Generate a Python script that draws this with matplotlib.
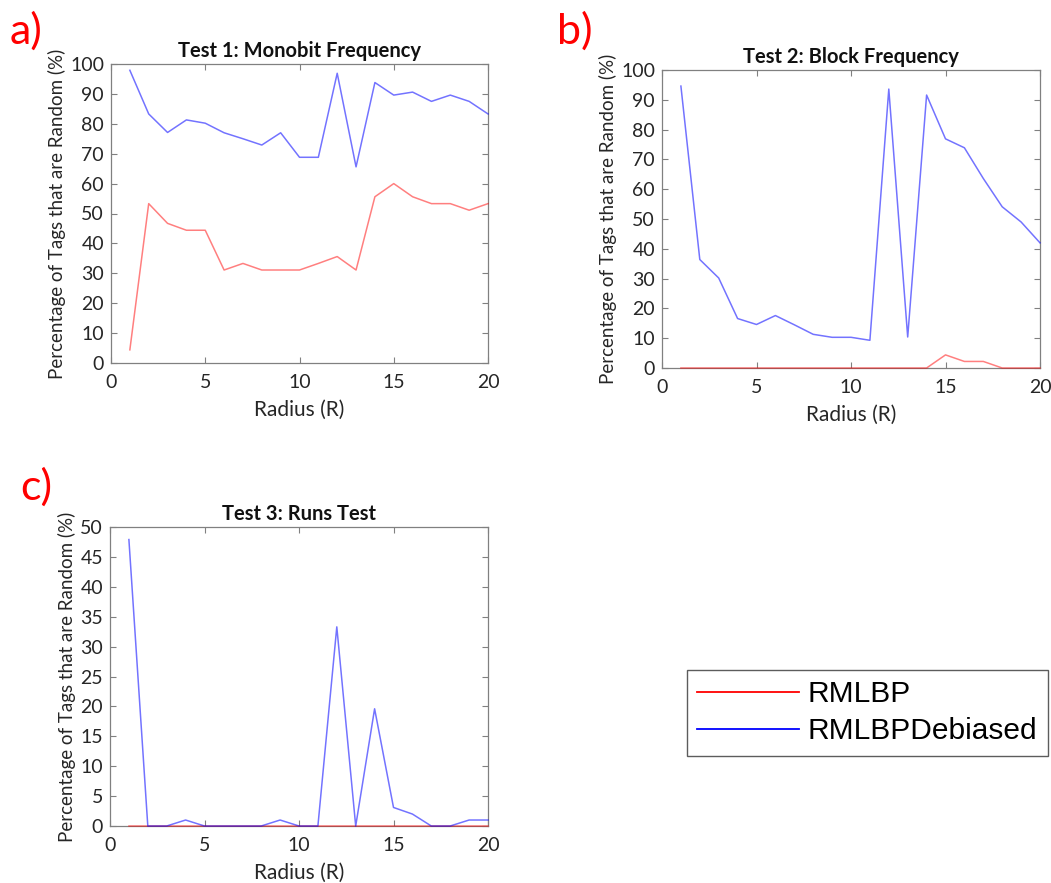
import matplotlib
matplotlib.use("Agg")
import matplotlib.pyplot as plt
from matplotlib.lines import Line2D

radius = list(range(1, 21))

# Test 1: Monobit Frequency
t1_rmlbp = [4.4, 53.3, 46.7, 44.4, 44.4, 31.1, 33.3, 31.1, 31.1, 31.1,
            33.3, 35.6, 31.1, 55.6, 60.0, 55.6, 53.3, 53.3, 51.1, 53.3]
t1_debiased = [97.9, 83.3, 77.1, 81.3, 80.2, 77.0, 75.0, 72.9, 77.0, 68.8,
               68.8, 96.9, 65.6, 93.8, 89.6, 90.6, 87.5, 89.6, 87.5, 83.3]

# Test 2: Block Frequency
t2_rmlbp = [0, 0, 0, 0, 0, 0, 0, 0, 0, 0,
            0, 0, 0, 0, 4.4, 2.2, 2.2, 0, 0, 0]
t2_debiased = [94.6, 36.4, 30.2, 16.6, 14.6, 17.6, 14.5, 11.3, 10.3, 10.3,
               9.3, 93.6, 10.4, 91.6, 76.9, 73.9, 63.6, 54.1, 49.0, 42.0]

# Test 3: Runs Test
t3_rmlbp = [0] * 20
t3_debiased = [47.9, 0, 0, 1.0, 0, 0, 0, 0, 1.0, 0,
               0, 33.3, 0, 19.6, 3.1, 2.0, 0, 0, 1.0, 1.0]

titles = ["Test 1: Monobit Frequency", "Test 2: Block Frequency", "Test 3: Runs Test"]
panel_labels = ["a)", "b)", "c)"]
legend_labels = ["RMLBP", "RMLBPDebiased"]
xlabel = "Radius (R)"
ylabel = "Percentage of Tags that are Random (%)"

FONT = ["Lato", "DejaVu Sans"]
RED = "#ff0000"
BLUE = "#0000ff"

W, H = 1051, 883
fig = plt.figure(figsize=(W / 100, H / 100), dpi=100)


def px_axes(left, top, right, bottom):
    return fig.add_axes([left / W, 1 - bottom / H, (right - left) / W, (bottom - top) / H])


def style(ax, ymax, ystep, title):
    ax.set_xlim(0, 20)
    ax.set_ylim(0, ymax)
    ax.set_xticks(range(0, 21, 5))
    ax.set_yticks(range(0, ymax + 1, ystep))
    ax.tick_params(direction="in", top=True, right=True, length=4, width=0.8,
                   color="#808080", labelsize=14, labelcolor="#262626")
    ax.tick_params(axis="x", pad=8)
    ax.tick_params(axis="y", pad=5)
    for lab in ax.get_xticklabels() + ax.get_yticklabels():
        lab.set_fontfamily(FONT)
    for sp in ax.spines.values():
        sp.set_color("#808080")
        sp.set_linewidth(0.9)
    ax.set_title(title, fontsize=14.5, fontweight="bold", family=FONT, pad=5, color="#111111")
    ax.set_xlabel(xlabel, fontsize=15, family=FONT, color="#262626", labelpad=6)
    ax.set_ylabel(ylabel, fontsize=13.5, family=FONT, color="#262626", labelpad=3)


axes_specs = [
    ((111, 64, 488, 363), t1_rmlbp, t1_debiased, 100, 10),
    ((662, 70, 1040, 368), t2_rmlbp, t2_debiased, 100, 10),
    ((110, 527, 488, 826), t3_rmlbp, t3_debiased, 50, 5),
]

for i, (box, red_vals, blue_vals, ymax, ystep) in enumerate(axes_specs):
    ax = px_axes(*box)
    ax.plot(radius, red_vals, color=RED, lw=1.1, alpha=0.5, clip_on=False, zorder=3)
    ax.plot(radius, blue_vals, color=BLUE, lw=1.1, alpha=0.55, clip_on=False, zorder=3)
    style(ax, ymax, ystep, titles[i])

label_pos = [(10, 44), (557, 44), (20, 500)]
for lab, (x, y) in zip(panel_labels, label_pos):
    fig.text(x / W, 1 - y / H, lab, color="red", fontsize=31, family=FONT, ha="left", va="baseline")

handles = [Line2D([0], [0], color=RED, lw=1.3), Line2D([0], [0], color=BLUE, lw=1.3)]
leg = fig.legend(handles, legend_labels, loc="upper left",
                 bbox_to_anchor=(687 / W, 1 - 670 / H),
                 prop={"family": "Liberation Sans", "size": 21.5},
                 frameon=True, fancybox=False, edgecolor="#333333",
                 handlelength=3.4, handletextpad=0.3, borderpad=0.35,
                 labelspacing=0.3, borderaxespad=0)
leg.get_frame().set_linewidth(1.0)

fig.savefig("out.png", dpi=100)
